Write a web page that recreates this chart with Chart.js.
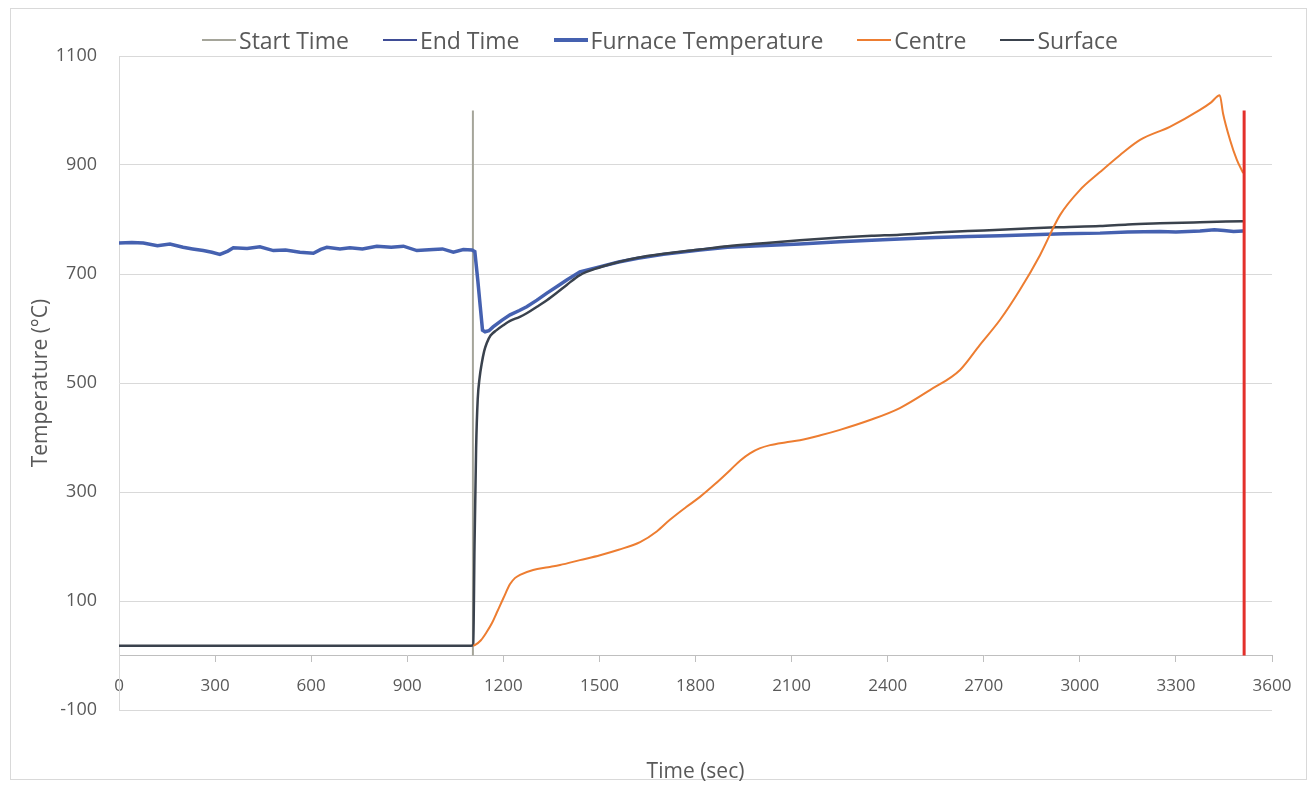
<!DOCTYPE html>
<html>
<head>
<meta charset="utf-8">
<script src="https://cdn.jsdelivr.net/npm/chart.js@4.4.1/dist/chart.umd.min.js"></script>
<style>
    html, body { margin: 0; padding: 0; background: #fff; }
    #wrap { position: relative; width: 1310px; height: 785px; }
    #frame { position: absolute; left: 10px; top: 8px; width: 1297px; height: 772px; border: 1px solid #d9d9d9; box-sizing: border-box; }
    #legend { position: absolute; left: 0; top: 25px; width: 1320px; display: flex; justify-content: center; gap: 34px;
              font-family: "Open Sans"; font-size: 23px; color: #595959; line-height: 30px; }
    .item { display: flex; align-items: center; }
    .swatch { width: 34px; margin-right: 3px; }
    canvas { position: absolute; left: 0; top: 0; }
</style>
</head>
<body>
<div id="wrap">
    <div id="frame"></div>
    <canvas id="chart" width="1310" height="785"></canvas>
    <div id="legend"></div>
</div>
<script>
// marker lines (sec / degC)
const startTimeX = [1105, 1105];
const startTimeY = [0, 1000];
const endTimeX = [3513, 3513];
const endTimeY = [0, 1000];

const furnaceTime = [0, 40, 76, 120, 159, 200, 230, 263, 290, 315, 340, 357, 400, 440, 482, 520, 565, 607, 630, 649,
    690, 721, 760, 805, 850, 888, 930, 981, 1010, 1044, 1075, 1102, 1111, 1120, 1128, 1135, 1143, 1155, 1168, 1195,
    1221, 1250, 1273, 1305, 1336, 1370, 1398, 1439, 1500, 1560, 1620, 1700, 1814, 1900, 2000, 2126, 2250, 2350, 2438,
    2550, 2650, 2751, 2850, 2950, 3063, 3150, 3250, 3300, 3375, 3420, 3450, 3480, 3510];
const furnaceTemp = [757, 758, 757, 752, 755, 749, 746, 743, 740, 736, 742, 748, 747, 750, 743, 744, 740, 738, 745, 749,
    746, 748, 746, 751, 749, 751, 743, 745, 746, 740, 745, 744, 741, 690, 640, 597, 594, 596, 603, 615,
    625, 633, 640, 652, 665, 678, 689, 704, 713, 722, 729, 736, 744, 749, 752, 755, 759, 762, 764,
    767, 769, 770, 772, 774, 775, 777, 778, 777, 779, 781, 780, 778, 779];

const centreTime = [1106, 1111, 1130, 1148, 1165, 1179, 1200, 1221, 1236, 1252, 1293, 1340, 1377, 1439, 1502, 1560,
    1627, 1680, 1720, 1770, 1814, 1860, 1908, 1940, 1970, 2000, 2033, 2080, 2126, 2190, 2251, 2345, 2438, 2532,
    2626, 2688, 2751, 2813, 2876, 2938, 3000, 3063, 3125, 3188, 3281, 3375, 3410, 3437, 3447, 3469, 3490, 3510];
const centreTemp = [18, 19, 28, 43, 60, 78, 105, 131, 142, 148, 157, 162, 166, 175, 184, 194,
    208, 228, 249, 272, 291, 314, 340, 358, 371, 380, 386, 391, 395, 404, 414, 432, 454, 487,
    524, 570, 616, 671, 735, 808, 854, 887, 918, 946, 970, 1001, 1015, 1028, 995, 946, 910, 885];

const surfaceTime = [0, 1100, 1106, 1110, 1115, 1120, 1126, 1132, 1140, 1148, 1160, 1179, 1200, 1221, 1250, 1273,
    1305, 1336, 1370, 1398, 1439, 1500, 1560, 1620, 1700, 1814, 1900, 2000, 2126, 2250, 2350, 2438, 2550, 2650,
    2751, 2850, 2950, 3063, 3150, 3250, 3375, 3510];
const surfaceTemp = [18, 18, 20, 200, 380, 470, 510, 534, 558, 573, 587, 597, 606, 614, 621, 628,
    640, 652, 667, 680, 698, 712, 722, 730, 737, 745, 751, 756, 762, 767, 770, 772, 776, 779,
    781, 784, 786, 788, 791, 793, 795, 797];

const yTicks = { min: -100, max: 1100, step: 200 };
const xTicks = { min: 0, max: 3600, step: 300 };

const seriesLabels = ["Start Time", "End Time", "Furnace Temperature", "Centre", "Surface"];
const legendColors = ["#a5a59a", "#3f4d96", "#4561b0", "#ed7d31", "#3a424d"];
const legendWidths = [2, 2, 4, 2, 2];

function points(xs, ys) {
    return xs.map((x, i) => ({ x: x, y: ys[i] }));
}

const textColor = "#595959";
const font = "Open Sans";
const plain = (v) => String(v);

const datasets = [
    { label: seriesLabels[0], data: points(startTimeX, startTimeY), borderColor: "#a5a59a", borderWidth: 2, order: 4 },
    { label: seriesLabels[1], data: points(endTimeX, endTimeY), borderColor: "#e3302b", borderWidth: 3, order: 0 },
    { label: seriesLabels[2], data: points(furnaceTime, furnaceTemp), borderColor: "#4561b0", borderWidth: 3.5, order: 3 },
    { label: seriesLabels[3], data: points(centreTime, centreTemp), borderColor: "#ed7d31", borderWidth: 2, order: 1,
      cubicInterpolationMode: "monotone" },
    { label: seriesLabels[4], data: points(surfaceTime, surfaceTemp), borderColor: "#3a424d", borderWidth: 2.5, order: 2,
      cubicInterpolationMode: "monotone" },
];

new Chart(document.getElementById("chart"), {
    type: "line",
    data: { datasets: datasets },
    options: {
        responsive: false,
        animation: false,
        elements: { point: { radius: 0 }, line: { fill: false } },
        layout: { padding: { left: 10, top: 56, right: 38, bottom: 0 } },
        plugins: {
            legend: { display: false },
            tooltip: { enabled: false },
        },
        scales: {
            x: {
                type: "linear",
                axis: "x",
                position: { y: 0 },
                min: xTicks.min,
                max: xTicks.max,
                ticks: { stepSize: xTicks.step, autoSkip: false, maxRotation: 0, padding: 14, callback: plain,
                         color: textColor, font: { family: font, size: 17 } },
                grid: { drawOnChartArea: false, drawTicks: true, tickLength: 6, color: "#bfbfbf" },
                border: { color: "#bfbfbf", width: 1 },
            },
            x2: {
                type: "linear",
                axis: "x",
                position: "bottom",
                min: xTicks.min,
                max: xTicks.max,
                ticks: { display: false },
                grid: { display: false },
                border: { display: false },
                title: { display: true, text: "Time (sec)", color: textColor,
                         font: { family: font, size: 21 }, padding: { top: 0, bottom: 0 } },
                afterFit: (s) => { s.height = 75; },
            },
            y: {
                min: yTicks.min,
                max: yTicks.max,
                ticks: { stepSize: yTicks.step, padding: 22, callback: plain,
                         color: textColor, font: { family: font, size: 18 } },
                grid: { color: "#d9d9d9", drawTicks: false },
                border: { color: "#d9d9d9" },
                title: { display: true, text: "Temperature (°C)", color: textColor,
                         font: { family: font, size: 21 }, padding: { top: 18, bottom: 0 } },
                afterFit: (s) => { s.width = 109; },
            },
        },
    },
});

// legend as html, same colours as the reference legend
const legend = document.getElementById("legend");
seriesLabels.forEach((label, i) => {
    const item = document.createElement("div");
    item.className = "item";
    const sw = document.createElement("span");
    sw.className = "swatch";
    sw.style.height = legendWidths[i] + "px";
    sw.style.background = legendColors[i];
    const txt = document.createElement("span");
    txt.textContent = label;
    item.appendChild(sw);
    item.appendChild(txt);
    legend.appendChild(item);
});
</script>
</body>
</html>
